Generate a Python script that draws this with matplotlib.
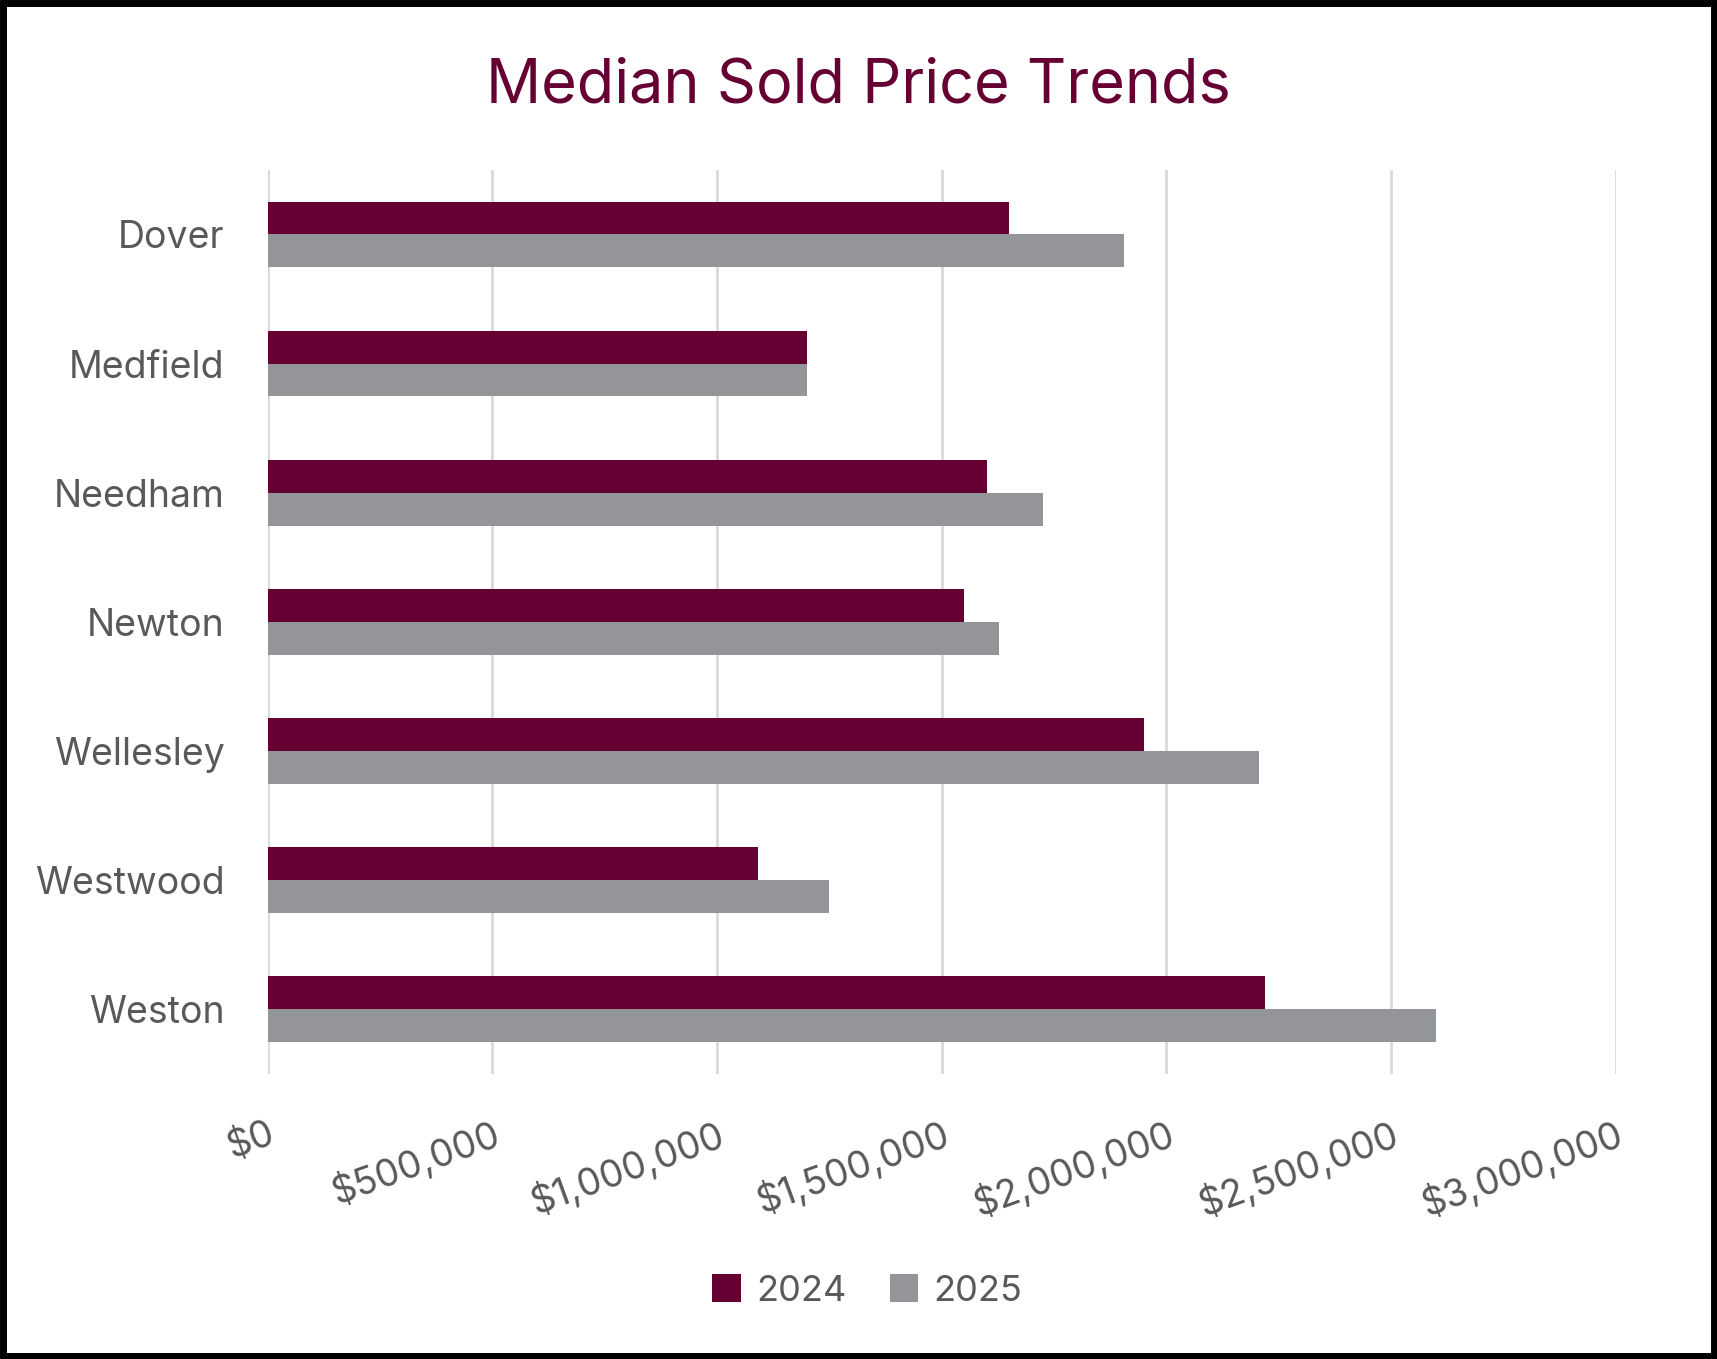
import numpy as np
import matplotlib.pyplot as plt
from matplotlib.patches import Rectangle
from matplotlib.ticker import FuncFormatter

towns = ["Dover", "Medfield", "Needham", "Newton", "Wellesley", "Westwood", "Weston"]
price_2024 = [1650000, 1200000, 1600000, 1550000, 1950000, 1090000, 2220000]
price_2025 = [1905000, 1200000, 1725000, 1627000, 2205000, 1250000, 2600000]

maroon = "#660033"
grey = "#939598"
txt = "#595959"

plt.rcParams['font.family'] = ['Inter', 'DejaVu Sans']

fig = plt.figure(figsize=(17.17, 13.59), dpi=100)
ax = fig.add_axes([0.156, 0.21, 0.785, 0.665])

y = np.arange(len(towns))
h = 0.255
ax.barh(y - h / 2, price_2024, height=h, color=maroon, label="2024", zorder=3)
ax.barh(y + h / 2, price_2025, height=h, color=grey, label="2025", zorder=3)

ax.set_xlim(0, 3000000)
ax.set_ylim(len(towns) - 0.5, -0.5)
ax.set_xticks(np.arange(0, 3000001, 500000))
ax.xaxis.set_major_formatter(FuncFormatter(lambda v, p: f"${v:,.0f}"))
ax.set_yticks(y)
ax.set_yticklabels(towns)
ax.grid(axis="x", color="#d9d9d9", linewidth=2, zorder=0)
for s in ax.spines.values():
    s.set_visible(False)
ax.tick_params(length=0, colors=txt, labelsize=27)
ax.tick_params(axis="y", pad=31)
ax.tick_params(axis="x", pad=30)
for lab in ax.get_xticklabels():
    lab.set_rotation(20)
    lab.set_ha("right")
    lab.set_rotation_mode("anchor")

fig.text(0.5, 0.936, "Median Sold Price Trends", ha="center", va="center",
         color=maroon, fontsize=44)

fig.legend(loc="center", bbox_to_anchor=(0.505, 0.050), ncol=2, frameon=False,
           fontsize=26, labelcolor=txt, handlelength=0.8, handleheight=0.8,
           handletextpad=0.4, columnspacing=1.2)

fig.patches.append(Rectangle((0.002, 0.002), 0.996, 0.996, transform=fig.transFigure,
                             fill=False, edgecolor="black", linewidth=5))

fig.savefig("out.png", dpi=100, facecolor="white")
